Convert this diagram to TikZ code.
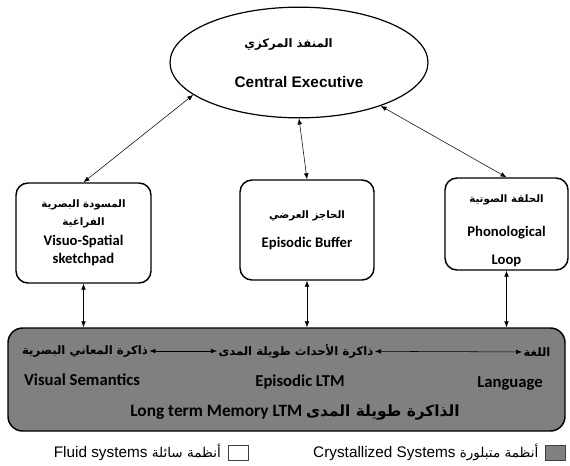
\documentclass[tikz,border=0pt]{standalone}
\usepackage{xcolor}
\usepackage{fontspec}
\setmainfont{Carlito}
\newfontfamily\arialfont{Liberation Sans}
\newfontfamily\arabicfont[Script=Arabic,Scale=0.7]{DejaVu Sans}
\TeXXeTstate=1
\usepackage{tikz}
\usetikzlibrary{shapes.geometric,positioning,arrows.meta}

\definecolor{ltmgray}{HTML}{808080}
\newcommand{\artext}[1]{\hbox{\arabicfont\beginR #1\endR}}

\begin{document}
\begin{tikzpicture}[x=0.75pt, y=-0.75pt, >={Latex[length=4.5pt,width=3.5pt]}, thin,
  component/.style={draw, rounded corners=9pt, line width=1.1pt, align=center, inner sep=0pt,
    font=\bfseries\fontsize{11}{13}\selectfont},
  store/.style={inner sep=1pt, font=\bfseries\fontsize{12.5}{15}\selectfont},
  key/.style={draw=black!75, minimum width=15pt, minimum height=11pt, inner sep=0pt},
  keytext/.style={inner sep=0pt, font=\arialfont\fontsize{11.5}{13}\selectfont}]
  \useasboundingbox (0,0) rectangle (570,465);

  % working memory
  \node[ellipse, draw, line width=0.9pt, minimum width=193.5pt, minimum height=83pt, inner sep=0pt] (ce) at (299,62.5) {};
  \node[inner sep=0pt, anchor=east, font=\bfseries\fontsize{12.5}{14}\selectfont] (cear) at (333,44) {\artext{المنفذ المركزي}};
  \node[inner sep=0pt, font=\arialfont\bfseries\fontsize{11.5}{14}\selectfont] (ceen) at (299,82) {Central Executive};
  \node[component, minimum width=101.25pt, minimum height=75pt] (vss) at (83.5,233)
    {\artext{المسودة البصرية}\\\artext{الفراغية}\\[2pt]Visuo-Spatial\\[1pt]sketchpad};
  \node[component, minimum width=100.5pt, minimum height=75pt] (eb) at (307,230)
    {\artext{الحاجز العرضي}\\[9pt]Episodic Buffer};
  \node[component, minimum width=92.25pt, minimum height=69pt] (pl) at (506.5,224)
    {\rule{0pt}{16pt}\artext{الحلقة الصوتية}\\[13pt]Phonological\\[8pt]Loop};

  % long term memory
  \node[draw, fill=ltmgray, rounded corners=11pt, line width=1.1pt, minimum width=417.75pt,
    minimum height=77.25pt, inner sep=0pt] (ltm) at (286.5,379.5) {};
  \node[store] (vsa) at (85,351) {\artext{ذاكرة المعاني البصرية}};
  \node[store] (ela) at (296,351) {\artext{ذاكرة الأحداث طويلة المدى}};
  \node[store] (lga) at (537,352) {\artext{اللغة}};
  \node[store] (vse) at (82,380) {Visual Semantics};
  \node[store] (ele) at (300,382) {Episodic LTM};
  \node[store] (lge) at (510,383) {Language};
  \node[store] (ltmt) at (295,413)
    {\hbox{\beginR{\fontsize{16.5}{16}\arabicfont الذاكرة طويلة المدى} \beginL\fontsize{13}{15}\selectfont Long term Memory LTM\endL\endR}};

  \draw[<->] (ce.197) -- (vss.north);
  \draw[<->] (ce.south) -- (eb.north);
  \draw[<->] (ce.332) -- (pl.north);
  \draw[<->] (vss.south) -- (vss.south |- ltm.north);
  \draw[<->] (eb.south) -- (eb.south |- ltm.north);
  \draw[<->] (pl.south) -- (pl.south |- ltm.north);
  \draw[<->] (vsa) -- (ela);
  \draw[<->] (ela) -- (lga);

  % legend
  \node[key] (fluidkey) at (238,452.5) {};
  \node[keytext, left=5pt of fluidkey] (fluidtxt)
    {\hbox{\beginR{\fontsize{14.5}{14}\arabicfont أنظمة سائلة} \beginL Fluid systems\endL\endR}};
  \node[key, fill=ltmgray] (crystkey) at (555.5,452.5) {};
  \node[keytext, left=5pt of crystkey] (crysttxt)
    {\hbox{\beginR{\fontsize{14.5}{14}\arabicfont أنظمة متبلورة} \beginL Crystallized Systems\endL\endR}};
\end{tikzpicture}
\end{document}
